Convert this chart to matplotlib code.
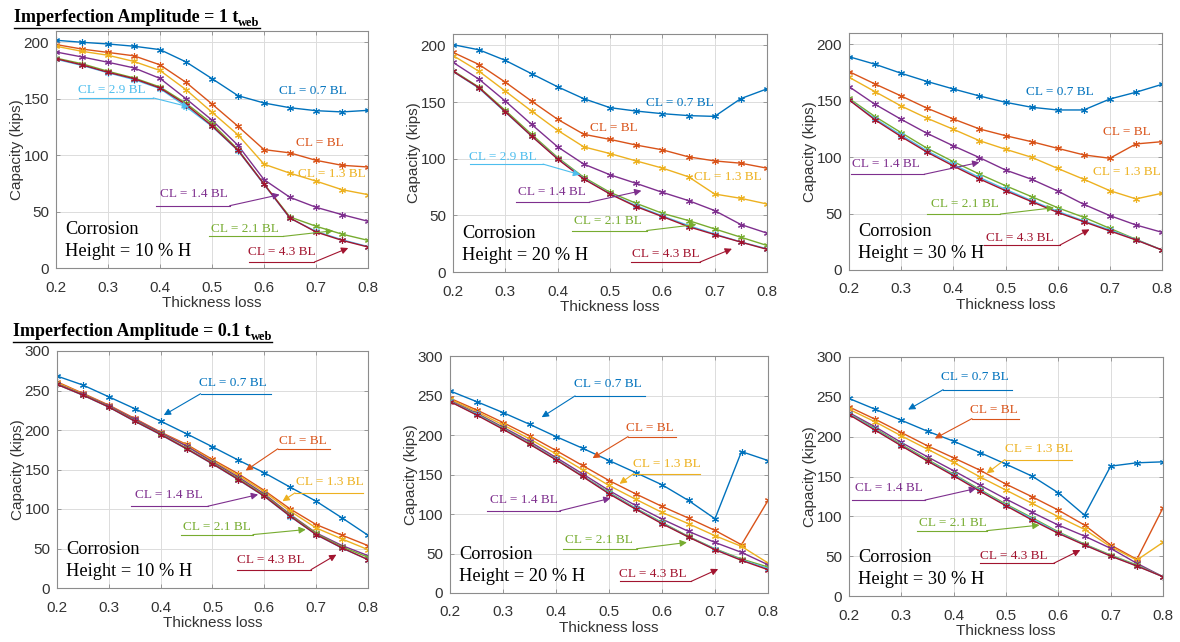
import matplotlib
matplotlib.use('Agg')
import matplotlib.pyplot as plt

# ---------------- data ----------------
thickness_loss = [0.2, 0.25, 0.3, 0.35, 0.4, 0.45, 0.5, 0.55, 0.6, 0.65, 0.7, 0.75, 0.8]
cl_labels = ["CL = 0.7 BL", "CL = BL", "CL = 1.3 BL", "CL = 1.4 BL",
             "CL = 2.1 BL", "CL = 2.9 BL", "CL = 4.3 BL"]
corrosion_heights = [10, 20, 30]
amplitude_labels = ["1", "0.1"]

# Imperfection amplitude = 1 t_web ; rows follow cl_labels
amp1_h10 = [
    [201.8, 200, 198.5, 196.5, 193.5, 182.6, 167.8, 152.7, 146.2, 142, 139.4, 138.3, 139.7],
    [198, 194, 191, 188, 180, 164.5, 145.3, 125.6, 104.9, 102, 95.4, 91, 89.5],
    [196.5, 192, 188.5, 183, 175, 158, 138, 118, 92, 84, 77, 69.4, 65],
    [191.4, 187, 182.3, 177.3, 168, 150, 131, 108.7, 78.3, 62.6, 53.8, 47.3, 41.4],
    [186, 181, 174.3, 168.4, 160.4, 146, 128, 105, 74.4, 45.2, 37, 30, 24.5],
    [185, 179.5, 173, 167, 159, 143, 125.5, 104, 74, 44, 32.5, 25, 19],
    [185.5, 180, 173.4, 167.8, 159.5, 144.8, 126, 104.3, 74.4, 44.3, 31.9, 24.5, 18.6],
]
amp1_h20 = [
    [200.6, 196, 186.7, 175, 163.4, 152.9, 145, 142, 139.7, 138, 137.3, 153, 161.6],
    [193.8, 183, 167.5, 150.8, 134.7, 121.5, 117, 112, 107.8, 101.6, 98, 96, 91.6],
    [191, 177, 159.6, 142, 125, 110.4, 104.5, 98, 91.7, 84, 68.8, 65, 60],
    [185, 170, 150.8, 130.3, 110.4, 95.2, 85.8, 78.2, 70.3, 63, 54.2, 41.9, 34.3],
    [177.7, 163, 142.6, 121.5, 101, 83.5, 70.3, 60.6, 51.8, 45.4, 38, 30.7, 23.4],
    [177, 162, 141, 120, 100, 82.5, 69, 58.5, 49.5, 41, 33.5, 26.5, 20.5],
    [177, 162.5, 141.4, 120, 99.6, 82, 68.8, 57.7, 48.9, 40, 33, 26.4, 20],
]
amp1_h30 = [
    [189, 182.3, 174.3, 167, 160.4, 154.2, 148.6, 144.2, 141.8, 141.8, 151.5, 157.5, 164.5],
    [175.8, 164.8, 154.2, 143.3, 133.8, 125, 119, 113.7, 107.8, 102, 99, 111.7, 113.7],
    [170.8, 158, 145.3, 134.4, 124.7, 114.6, 107, 99.9, 90, 80.4, 70.3, 63, 68],
    [162.5, 146.8, 133.5, 121, 110, 99.6, 88.6, 80.4, 70, 58.2, 48.2, 39.9, 33.4],
    [152, 135.9, 121.7, 107.8, 96, 85, 74.7, 65, 55.2, 46.7, 36.9, 27.2, 17.7],
    [151, 134, 119.5, 105.5, 93.5, 82, 71.5, 61.5, 52, 43.5, 35.5, 27, 17.7],
    [150.7, 133, 118.2, 104.3, 92.2, 80.7, 70.3, 60.6, 51, 42.8, 34.6, 26.6, 17.7],
]
# Imperfection amplitude = 0.1 t_web
amp01_h10 = [
    [268.3, 256.9, 242, 227, 211.2, 195.2, 178.7, 161.8, 145.8, 127.6, 109.8, 88.7, 66.8],
    [261, 246.4, 231.5, 214.6, 197.3, 181.7, 162.7, 144.5, 123.4, 100, 80.3, 66.8, 53.7],
    [260, 245.5, 230.5, 213.5, 196.5, 180.5, 161, 142.5, 121.7, 97.2, 76, 62, 48.6],
    [258.6, 245, 230.4, 213.4, 196.5, 179.6, 159.7, 140.3, 119, 93, 69.7, 53.7, 41],
    [258, 244.5, 229.5, 212, 195, 177, 158, 138.5, 117.5, 92, 69, 52, 39],
    [257.7, 244, 229, 211, 194, 176, 157, 137, 116, 90.5, 67.5, 50.5, 36],
    [257.7, 244.2, 229, 211.2, 194.3, 176.2, 157.2, 137.3, 116.2, 90.8, 67.6, 50.7, 35.9],
]
amp01_h20 = [
    [255.8, 242.3, 228.4, 213.6, 198, 183.3, 167.7, 152.5, 137, 117.1, 94, 179, 167.7],
    [246.5, 231.8, 215.8, 198.9, 180.4, 161.4, 142.4, 125.6, 109.6, 94.8, 79.2, 61.1, 117.1],
    [245.3, 229.7, 212.8, 195.1, 176.1, 156, 136.1, 118.8, 102, 87.7, 72.5, 59, 38],
    [243.6, 227.6, 209.9, 191.8, 171.5, 150.9, 129.8, 110.8, 93.6, 78, 64, 51.4, 35.8],
    [242.7, 226.7, 208.6, 189.6, 169.4, 148.3, 127.3, 107.5, 89.3, 71.6, 56, 43, 32.9],
    [242.5, 226, 208, 189, 169, 148, 126.5, 107, 88.5, 71, 55.5, 42, 31],
    [242.3, 225.4, 207.3, 188.4, 168.6, 147.5, 125.6, 106.2, 87.7, 70.8, 54.8, 41.3, 29.5],
]
amp01_h30 = [
    [248, 234.4, 220.6, 206.8, 194.3, 180.1, 165.5, 150.4, 129.5, 101.5, 163, 167.2, 168.4],
    [237.4, 221.9, 205.2, 188.5, 173.4, 158, 140.4, 124.5, 107.8, 89, 64, 46, 110.7],
    [234.4, 218.6, 201, 184.3, 167.6, 149.6, 132.9, 116.2, 99.5, 83.6, 61.8, 45.1, 67.3],
    [230.2, 212.3, 192.7, 174.7, 157.2, 139.3, 121.7, 105, 89, 75.2, 59.8, 41, 24.2],
    [229, 210.2, 190.1, 171.3, 152.9, 133.7, 115.3, 98.2, 80.6, 65.2, 51.4, 38.9, 24.2],
    [228.5, 209, 189, 170, 152, 132.5, 114, 97, 79.5, 64.5, 50.5, 38, 24.2],
    [227.7, 208.1, 188.5, 169.3, 150.9, 131.6, 113.2, 95.3, 78.6, 64, 50.1, 37.6, 24.2],
]

# ---------------- styling / layout ----------------
colors = ['#0072BD', '#D95319', '#EDB120', '#7E2F8E', '#77AC30', '#4DBEEE', '#A2142F']
W, H = 1180, 642
# axes boxes in pixels: left, top, right, bottom
boxes = [
    (56, 31, 368, 268), (453, 34, 767, 272), (849, 33, 1162, 270),
    (57, 351, 368, 588), (450, 356, 768, 593), (849, 357, 1163, 596),
]
panels = [amp1_h10, amp1_h20, amp1_h30, amp01_h10, amp01_h20, amp01_h30]
ytops = [210, 210, 210, 300, 300, 300]

# annotations: series index, text (x, y), underline (x0, x1, y) or None, head (x, y) or None
notes = [
    [(0, (0.694, 156.6), None, None), (1, (0.707, 110.8), None, None), (2, (0.73, 83), None, None),
     (5, (0.307, 158), (0.244, 0.387, 150.7), (0.456, 142.7)),
     (3, (0.465, 65.6), (0.392, 0.534, 55.2), (0.63, 65)),
     (4, (0.563, 35), (0.494, 0.637, 28), (0.733, 33)),
     (6, (0.635, 13.9), (0.572, 0.697, 5.3), (0.762, 17.7))],
    [(0, (0.634, 149.3), None, None), (1, (0.508, 127.4), None, None), (2, (0.725, 84), None, None),
     (5, (0.296, 101.6), (0.232, 0.372, 95.2), (0.443, 85.8)),
     (3, (0.39, 70.3), (0.32, 0.46, 61.5), (0.56, 71.7)),
     (4, (0.497, 44.8), (0.428, 0.57, 36.6), (0.665, 41.9)),
     (6, (0.607, 16), (0.54, 0.672, 8.8), (0.733, 20.5))],
    [(0, (0.605, 158), None, None), (1, (0.733, 122.6), None, None), (2, (0.733, 87), None, None),
     (3, (0.271, 94), (0.203, 0.344, 84.8), (0.45, 95.4)),
     (4, (0.423, 58.2), (0.35, 0.49, 49.6), (0.593, 55.2)),
     (6, (0.528, 28), (0.459, 0.604, 22), (0.661, 36))],
    [(0, (0.54, 259.8), (0.477, 0.613, 245.9), (0.406, 218.8)),
     (1, (0.675, 186.7), (0.626, 0.726, 176.2), (0.564, 148.7)),
     (2, (0.727, 134.3), (0.659, 0.79, 120.4), (0.635, 109.8)),
     (3, (0.416, 118.3), (0.342, 0.491, 103.5), (0.588, 118.3)),
     (4, (0.509, 76.9), (0.44, 0.578, 67.6), (0.68, 74)),
     (6, (0.612, 35), (0.547, 0.69, 23.2), (0.739, 42.2))],
    [(0, (0.498, 264.6), (0.436, 0.568, 249.5), (0.373, 222.5)),
     (1, (0.577, 208.6), (0.536, 0.627, 198), (0.469, 170.7)),
     (2, (0.61, 163.5), (0.546, 0.671, 150.9), (0.52, 138.2)),
     (3, (0.34, 117.1), (0.269, 0.407, 104), (0.503, 120)),
     (4, (0.481, 66.6), (0.414, 0.552, 56), (0.647, 64)),
     (6, (0.582, 24.4), (0.52, 0.655, 14.7), (0.706, 30.3))],
    [(0, (0.441, 275), (0.38, 0.511, 259), (0.313, 234)),
     (1, (0.476, 233.2), (0.435, 0.524, 222.7), (0.364, 197.7)),
     (2, (0.562, 185.1), (0.498, 0.626, 171.3), (0.463, 153.8)),
     (3, (0.277, 135), (0.205, 0.345, 120.4), (0.443, 135)),
     (4, (0.398, 92), (0.329, 0.463, 82), (0.564, 89)),
     (6, (0.514, 50), (0.45, 0.591, 41), (0.642, 57.7))],
]

serif = 'Liberation Serif'
sans = 'Liberation Sans'
plt.rcParams['font.family'] = [sans, 'DejaVu Sans']

fig = plt.figure(figsize=(W / 100, H / 100), dpi=100)
fig.patch.set_facecolor('white')

for i, (box, data) in enumerate(zip(boxes, panels)):
    l, t, r, b = box
    ax = fig.add_axes([l / W, 1 - b / H, (r - l) / W, (b - t) / H])
    for k, series in enumerate(data):
        ax.plot(thickness_loss, series, color=colors[k], lw=1.0,
                marker=(6, 2, 0), markersize=5, markeredgewidth=0.8)
    ax.set_xlim(0.2, 0.8)
    ax.set_ylim(0, ytops[i])
    ax.set_xticks([0.2, 0.3, 0.4, 0.5, 0.6, 0.7, 0.8])
    ax.set_yticks(list(range(0, ytops[i] + 1, 50)))
    ax.grid(True, color='#dcdcdc', lw=0.7)
    ax.set_axisbelow(True)
    for s in ax.spines.values():
        s.set_color('#8c8c8c')
        s.set_linewidth(0.8)
    ax.tick_params(direction='in', length=3, width=0.6, color='#8c8c8c',
                   labelsize=11, labelcolor='#333333', top=True, right=True)
    ax.tick_params(axis='x', pad=9)
    ax.tick_params(axis='y', pad=5)
    ax.set_xlabel('Thickness loss', fontsize=11, color='#333333', labelpad=1)
    ax.set_ylabel('Capacity (kips)', fontsize=11, color='#333333', labelpad=0)

    for k, txy, ul, head in notes[i]:
        c = colors[k]
        ax.text(txy[0], txy[1], cl_labels[k], color=c, fontsize=9.5, family=serif,
                ha='center', va='center', zorder=5)
        if ul is not None:
            x0, x1, yy = ul
            ax.plot([x0, x1], [yy, yy], color=c, lw=0.8, zorder=5, clip_on=False)
            start = (x0, yy) if abs(head[0] - x0) < abs(head[0] - x1) else (x1, yy)
            ax.annotate('', xy=head, xytext=start, zorder=6,
                        arrowprops=dict(arrowstyle='-|>', color=c, lw=0.8,
                                        mutation_scale=10, shrinkA=0, shrinkB=0))

    yt = ytops[i]
    ax.text(0.217, yt * 0.163, 'Corrosion', fontsize=13.2, family=serif,
            ha='left', va='center', color='black', zorder=5)
    ax.text(0.217, yt * 0.07, 'Height = %d %% H' % corrosion_heights[i % 3],
            fontsize=13.2, family=serif, ha='left', va='center', color='black', zorder=5)

# titles with underline and subscript
fig.canvas.draw()
renderer = fig.canvas.get_renderer()
for amp, (x_px, base_px) in zip(amplitude_labels, [(14, 22), (13, 336)]):
    t1 = fig.text(x_px / W, 1 - base_px / H, 'Imperfection Amplitude = %s t' % amp,
                  family=serif, weight='bold', fontsize=13, ha='left', va='baseline')
    bb = t1.get_window_extent(renderer)
    t2 = fig.text(bb.x1 / W, 1 - (base_px + 4) / H, 'web', family=serif, weight='bold',
                  fontsize=9, ha='left', va='baseline')
    bb2 = t2.get_window_extent(renderer)
    yline = 1 - (base_px + 6) / H
    fig.add_artist(plt.Line2D([bb.x0 / W, bb2.x1 / W], [yline, yline],
                              color='black', lw=1.0, transform=fig.transFigure))

fig.savefig('out.png', dpi=100)
